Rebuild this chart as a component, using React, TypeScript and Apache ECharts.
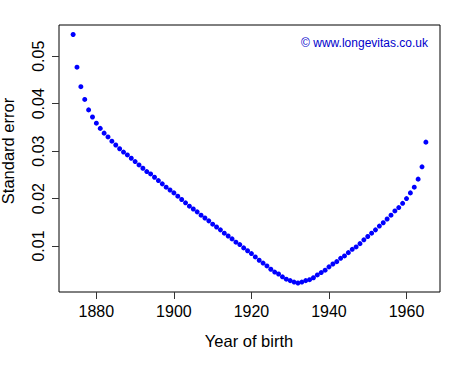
import React, { useEffect, useRef } from "react";
import * as echarts from "echarts";

const years: number[] = [
  1874, 1875, 1876, 1877, 1878, 1879, 1880, 1881, 1882, 1883, 1884, 1885, 1886, 1887, 1888, 1889,
  1890, 1891, 1892, 1893, 1894, 1895, 1896, 1897, 1898, 1899, 1900, 1901, 1902, 1903, 1904, 1905,
  1906, 1907, 1908, 1909, 1910, 1911, 1912, 1913, 1914, 1915, 1916, 1917, 1918, 1919, 1920, 1921,
  1922, 1923, 1924, 1925, 1926, 1927, 1928, 1929, 1930, 1931, 1932, 1933, 1934, 1935, 1936, 1937,
  1938, 1939, 1940, 1941, 1942, 1943, 1944, 1945, 1946, 1947, 1948, 1949, 1950, 1951, 1952, 1953,
  1954, 1955, 1956, 1957, 1958, 1959, 1960, 1961, 1962, 1963, 1964, 1965,
];

const standardError: number[] = [
  0.0546, 0.0477, 0.0436, 0.0409, 0.0387, 0.0372, 0.0359, 0.0348, 0.0338, 0.033, 0.0321, 0.0313,
  0.0305, 0.0298, 0.0292, 0.0285, 0.0278, 0.0271, 0.0264, 0.0257, 0.0252, 0.0245, 0.0238, 0.0231,
  0.0224, 0.0218, 0.0212, 0.0205, 0.0198, 0.0191, 0.0184, 0.0178, 0.0172, 0.0165, 0.0159, 0.0153,
  0.0146, 0.014, 0.0134, 0.0127, 0.0121, 0.0115, 0.0108, 0.0103, 0.0096, 0.009, 0.0084, 0.0077,
  0.007, 0.0064, 0.0058, 0.0051, 0.0045, 0.0041, 0.0035, 0.003, 0.0027, 0.0024, 0.0022, 0.0024,
  0.0027, 0.0029, 0.0033, 0.0039, 0.0044, 0.0049, 0.0056, 0.0062, 0.0067, 0.0074, 0.0079, 0.0086,
  0.0093, 0.0098, 0.0105, 0.0113, 0.012, 0.0127, 0.0134, 0.0142, 0.0149, 0.0157, 0.0165, 0.0174,
  0.0181, 0.019, 0.02, 0.0212, 0.0224, 0.0241, 0.0267, 0.0319,
];

const xTicks: number[] = [1880, 1900, 1920, 1940, 1960];
const yTicks: number[] = [0.01, 0.02, 0.03, 0.04, 0.05];

const xTitle = "Year of birth";
const yTitle = "Standard error";
const credit = "\u00a9 www.longevitas.co.uk";

const FONT = "'Liberation Sans', Arial, Helvetica, sans-serif";

export default function App() {
  const ref = useRef<HTMLDivElement>(null);

  useEffect(() => {
    if (!ref.current) return;
    const chart = echarts.init(ref.current, undefined, { renderer: "svg" });
    const points = years.map((y, i) => [y, standardError[i]]);
    chart.setOption({
      animation: false,
      backgroundColor: "#ffffff",
      textStyle: { fontFamily: FONT },
      grid: {
        left: 59,
        top: 25,
        right: 22,
        bottom: 74,
        show: true,
        borderColor: "#000000",
        borderWidth: 1,
        backgroundColor: "transparent",
      },
      xAxis: {
        type: "value",
        min: 1870.36,
        max: 1968.64,
        splitLine: { show: false },
        axisLine: { show: false },
        axisTick: {
          show: true,
          inside: false,
          length: 7,
          customValues: xTicks,
          lineStyle: { color: "#333333", width: 1 },
        },
        axisLabel: {
          show: true,
          customValues: xTicks,
          margin: 11,
          color: "#000000",
          fontSize: 16,
          fontFamily: FONT,
          formatter: (v: number) => String(v),
        },
      },
      yAxis: {
        type: "value",
        min: 0.0003,
        max: 0.0566,
        splitLine: { show: false },
        axisLine: { show: false },
        axisTick: {
          show: true,
          inside: false,
          length: 7,
          customValues: yTicks,
          lineStyle: { color: "#333333", width: 1 },
        },
        axisLabel: {
          show: true,
          customValues: yTicks,
          rotate: 90,
          margin: 13,
          color: "#000000",
          fontSize: 16,
          fontFamily: FONT,
          formatter: (v: number) => v.toFixed(2),
        },
      },
      series: [
        {
          type: "scatter",
          data: points,
          symbol: "circle",
          symbolSize: 5,
          itemStyle: { color: "#0000ff", opacity: 1 },
        },
      ],
      graphic: [
        {
          type: "text",
          x: 249,
          y: 341,
          style: {
            text: xTitle,
            fontSize: 16.5,
            fontFamily: FONT,
            fill: "#000000",
            align: "center",
            verticalAlign: "middle",
          },
        },
        {
          type: "text",
          x: 8,
          y: 151,
          rotation: Math.PI / 2,
          style: {
            text: yTitle,
            fontSize: 16.5,
            fontFamily: FONT,
            fill: "#000000",
            align: "center",
            verticalAlign: "middle",
          },
        },
        {
          type: "text",
          x: 428,
          y: 43,
          style: {
            text: credit,
            fontSize: 12,
            fontFamily: FONT,
            fill: "#0000cc",
            align: "right",
            verticalAlign: "middle",
          },
        },
      ],
    });
    return () => chart.dispose();
  }, []);

  return (
    <div
      ref={ref}
      style={{ position: "fixed", left: 0, top: 0, width: 462, height: 366 }}
    />
  );
}
